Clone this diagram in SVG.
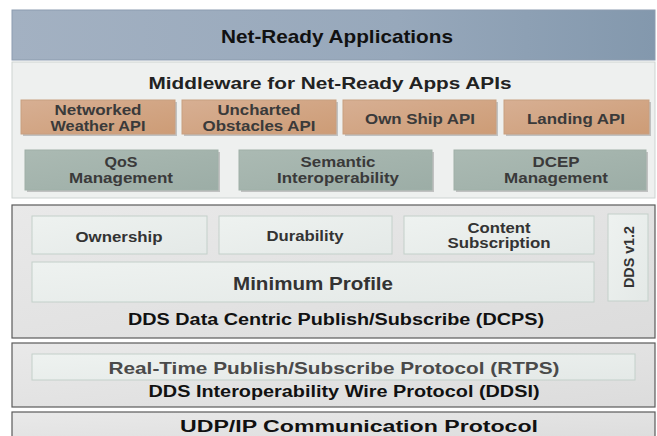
<svg xmlns="http://www.w3.org/2000/svg" width="657" height="436" viewBox="0 0 657 436">
<defs>
<linearGradient id="gTop" x1="0" y1="0" x2="1" y2="0">
<stop offset="0" stop-color="#a3b1c2"/><stop offset="0.6" stop-color="#97a8bb"/><stop offset="1" stop-color="#8398ad"/>
</linearGradient>
<linearGradient id="gOr" x1="0" y1="0" x2="1" y2="1">
<stop offset="0" stop-color="#d7af93"/><stop offset="1" stop-color="#cd9c76"/>
</linearGradient>
<linearGradient id="gGr" x1="0" y1="0" x2="1" y2="1">
<stop offset="0" stop-color="#abbab3"/><stop offset="1" stop-color="#9cada6"/>
</linearGradient>
<linearGradient id="gSec" x1="0" y1="0" x2="1" y2="1">
<stop offset="0" stop-color="#e9e9e9"/><stop offset="1" stop-color="#dcdcdc"/>
</linearGradient>
<linearGradient id="gIn" x1="0" y1="0" x2="1" y2="1">
<stop offset="0" stop-color="#eef2f0"/><stop offset="1" stop-color="#e4e9e7"/>
</linearGradient>
</defs>
<style>
text{font-family:"Liberation Sans",Arial,sans-serif;font-weight:bold;text-anchor:middle}
.t1{font-size:18.5px;fill:#111}
.t2{font-size:17px;fill:#222}
.ob{fill:url(#gOr);stroke:#c89f80;stroke-width:1}
.gb{fill:url(#gGr);stroke:#9fb0a8;stroke-width:1}
.sh{fill:#9a9a9a;opacity:0.55}
.bt{font-size:15px;fill:#3a3a3a}
.sec{fill:url(#gSec);stroke:#5a5a5a;stroke-width:1.2}
.in{fill:url(#gIn);stroke:#c3d0ca;stroke-width:1}
.it{font-size:15px;fill:#333}
.it2{font-size:14px;fill:#333}
.dt{font-size:16px;fill:#111}
</style>
<rect width="657" height="436" fill="#ffffff"/>
<g id="net-ready-applications">
<rect x="12" y="10" width="643" height="50" fill="url(#gTop)" stroke="#8c9caf"/>
<text class="t1" x="337" y="43" textLength="232" lengthAdjust="spacingAndGlyphs">Net-Ready Applications</text>
</g>
<g id="middleware">
<rect x="12" y="62" width="643" height="136" fill="#eef0ef" stroke="#cdd3d1"/>
<text class="t2" x="330" y="89" textLength="363" lengthAdjust="spacingAndGlyphs">Middleware for Net-Ready Apps APIs</text>
</g>
<g id="networked-weather-api">
<rect class="sh" x="23" y="102" width="154" height="34"/>
<rect class="ob" x="21" y="100" width="154" height="34"/>
<text class="bt" x="98" y="115" textLength="87" lengthAdjust="spacingAndGlyphs">Networked</text>
<text class="bt" x="98" y="131" textLength="95" lengthAdjust="spacingAndGlyphs">Weather API</text>
</g>
<g id="uncharted-obstacles-api">
<rect class="sh" x="184" y="102" width="154" height="34"/>
<rect class="ob" x="182" y="100" width="154" height="34"/>
<text class="bt" x="259" y="115" textLength="83" lengthAdjust="spacingAndGlyphs">Uncharted</text>
<text class="bt" x="259" y="131" textLength="113" lengthAdjust="spacingAndGlyphs">Obstacles API</text>
</g>
<g id="own-ship-api">
<rect class="sh" x="345" y="102" width="153" height="34"/>
<rect class="ob" x="343" y="100" width="153" height="34"/>
<text class="bt" x="420" y="124" textLength="110" lengthAdjust="spacingAndGlyphs">Own Ship API</text>
</g>
<g id="landing-api">
<rect class="sh" x="506" y="102" width="145" height="34"/>
<rect class="ob" x="504" y="100" width="145" height="34"/>
<text class="bt" x="576" y="124" textLength="98" lengthAdjust="spacingAndGlyphs">Landing API</text>
</g>
<g id="qos-management">
<rect class="sh" x="27" y="152" width="193" height="40"/>
<rect class="gb" x="25" y="150" width="193" height="40"/>
<text class="bt" x="121" y="167" textLength="33" lengthAdjust="spacingAndGlyphs">QoS</text>
<text class="bt" x="121" y="183" textLength="104" lengthAdjust="spacingAndGlyphs">Management</text>
</g>
<g id="semantic-interoperability">
<rect class="sh" x="241" y="152" width="193" height="40"/>
<rect class="gb" x="239" y="150" width="193" height="40"/>
<text class="bt" x="338" y="167" textLength="75" lengthAdjust="spacingAndGlyphs">Semantic</text>
<text class="bt" x="338" y="183" textLength="122" lengthAdjust="spacingAndGlyphs">Interoperability</text>
</g>
<g id="dcep-management">
<rect class="sh" x="456" y="152" width="192" height="40"/>
<rect class="gb" x="454" y="150" width="192" height="40"/>
<text class="bt" x="556" y="167" textLength="47" lengthAdjust="spacingAndGlyphs">DCEP</text>
<text class="bt" x="556" y="183" textLength="104" lengthAdjust="spacingAndGlyphs">Management</text>
</g>
<g id="dcps">
<rect class="sec" x="12" y="205" width="643" height="133"/>
<text class="dt" x="336" y="325" textLength="416" lengthAdjust="spacingAndGlyphs">DDS Data Centric Publish/Subscribe (DCPS)</text>
</g>
<g id="ownership">
<rect class="in" x="32" y="216" width="175" height="38"/>
<text class="it" x="119" y="242" textLength="87" lengthAdjust="spacingAndGlyphs">Ownership</text>
</g>
<g id="durability">
<rect class="in" x="219" y="216" width="173" height="38"/>
<text class="it" x="305" y="241" textLength="77" lengthAdjust="spacingAndGlyphs">Durability</text>
</g>
<g id="content-subscription">
<rect class="in" x="404" y="216" width="190" height="38"/>
<text class="it2" x="499" y="233" textLength="63" lengthAdjust="spacingAndGlyphs">Content</text>
<text class="it2" x="499" y="248" textLength="103" lengthAdjust="spacingAndGlyphs">Subscription</text>
</g>
<g id="minimum-profile">
<rect class="in" x="32" y="262" width="562" height="40"/>
<text x="313" y="290" style="font-size:17.5px;fill:#333" textLength="160" lengthAdjust="spacingAndGlyphs">Minimum Profile</text>
</g>
<g id="dds-v12">
<rect class="in" x="608" y="214" width="40" height="87"/>
<text class="it" transform="translate(634 257) rotate(-90)" x="0" y="0" textLength="62" lengthAdjust="spacingAndGlyphs">DDS v1.2</text>
</g>
<g id="ddsi">
<rect class="sec" x="12" y="343" width="643" height="64"/>
<text class="dt" x="344" y="397" textLength="391" lengthAdjust="spacingAndGlyphs">DDS Interoperability Wire Protocol (DDSI)</text>
</g>
<g id="rtps">
<rect class="in" x="32" y="354" width="603" height="26"/>
<text x="334" y="374" style="font-size:16.5px;fill:#4a4a4a" textLength="451" lengthAdjust="spacingAndGlyphs">Real-Time Publish/Subscribe Protocol (RTPS)</text>
</g>
<g id="udp-ip">
<rect class="sec" x="12" y="412" width="643" height="30"/>
<text class="dt" x="359" y="432" textLength="358" lengthAdjust="spacingAndGlyphs">UDP/IP Communication Protocol</text>
</g>
<g id="connectors"></g>
</svg>
